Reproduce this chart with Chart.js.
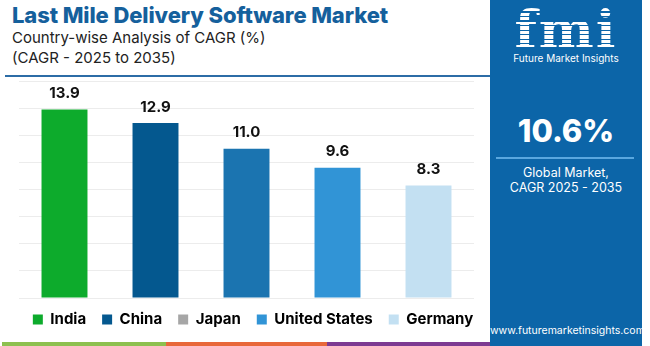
<!DOCTYPE html>
<html>
<head>
<meta charset="utf-8">
<script src="https://cdn.jsdelivr.net/npm/chart.js@4.4.1/dist/chart.umd.min.js"></script>
<style>
  html, body { margin: 0; padding: 0; background: #fff; }
  body { width: 650px; height: 346px; position: relative; overflow: hidden; font-family: Inter, "Open Sans", sans-serif; }
  #title { position: absolute; left: 12px; top: 2px; font-size: 22px; font-weight: 800; color: #15609c; white-space: nowrap; letter-spacing: -0.1px; }
  .sub { position: absolute; left: 12px; font-size: 15px; color: #222; white-space: nowrap; }
  #rule { position: absolute; left: 5px; top: 75px; width: 485px; height: 2px; background: #2c6ca6; }
  #chartBox { position: absolute; left: 0; top: 78px; width: 490px; height: 269px; }
  .strip { position: absolute; top: 342px; height: 4px; }
  #panel { position: absolute; left: 490px; top: 0; width: 152px; height: 346px; background: #0c65a8; color: #fff; text-align: center; }
  #logo { position: absolute; left: 0; top: 4px; width: 152px; font-family: "DejaVu Serif", serif; font-weight: bold; font-size: 52px; line-height: 52px; letter-spacing: 2px;
          background: repeating-linear-gradient(#fff 0 3px, transparent 3px 4.5px); -webkit-background-clip: text; background-clip: text; color: transparent; }
  #logoTxt { position: absolute; left: 0; top: 52px; width: 152px; font-size: 10px; }
  #big { position: absolute; left: 0; top: 112px; width: 152px; font-size: 31px; font-weight: 800; }
  #pline { position: absolute; left: 6px; top: 157px; width: 138px; height: 2px; background: #5aa7df; }
  #glob { position: absolute; left: 0; top: 165px; width: 152px; font-size: 12.5px; line-height: 15px; }
  #url { position: absolute; left: 0; top: 324px; width: 152px; font-size: 10.5px; }
</style>
</head>
<body>
<div id="title">Last Mile Delivery Software Market</div>
<div class="sub" style="top:28px">Country-wise Analysis of CAGR (%)</div>
<div class="sub" style="top:48px">(CAGR - 2025 to 2035)</div>
<div id="rule"></div>
<div id="chartBox"><canvas id="demo"></canvas></div>
<div class="strip" style="left:2px;width:164px;background:#8dc04f"></div>
<div class="strip" style="left:166px;width:161px;background:#e8683a"></div>
<div class="strip" style="left:327px;width:163px;background:#7d3a92"></div>
<div id="panel">
  <div id="logo">fmi</div>
  <div id="logoTxt">Future Market Insights</div>
  <div id="big">10.6%</div>
  <div id="pline"></div>
  <div id="glob">Global Market,<br>CAGR 2025 - 2035</div>
  <div id="url">www.futuremarketinsights.com</div>
</div>
<script>
const countries = ['India', 'China', 'Japan', 'United States', 'Germany'];
const cagr = [13.9, 12.9, 11.0, 9.6, 8.3];
const barColors = ['#0dab2c', '#04588f', '#1b74b0', '#3194d6', '#c3e0f2'];
const legendColors = ['#0dab2c', '#04588f', '#a6a6a6', '#3194d6', '#c3e0f2'];

// draw the value above each bar (no datalabels plugin offline)
const valueLabels = {
	id: 'valueLabels',
	afterDatasetsDraw(chart) {
		const ctx = chart.ctx;
		const meta = chart.getDatasetMeta(0);
		ctx.save();
		ctx.font = 'bold 15px Inter, sans-serif';
		ctx.fillStyle = '#111';
		ctx.textAlign = 'center';
		ctx.textBaseline = 'middle';
		meta.data.forEach(function(bar, i) {
			ctx.fillText(cagr[i].toFixed(1), bar.x, bar.y - 16);
		});
		ctx.restore();
	}
};

// pull the legend row a bit closer to the bars, nudge it right
const legendMove = {
	id: 'legendMove',
	afterLayout(chart) {
		chart.legend.top -= 10;
		chart.legend.bottom -= 10;
		chart.legend.left += 8;
		chart.legend.right += 8;
	}
};

const config_demo = {
	type: 'bar',
	data: {
		labels: countries,
		datasets: [{
			data: cagr,
			backgroundColor: barColors,
			borderWidth: 0,
			categoryPercentage: 1,
			barPercentage: 0.505
		}]
	},
	plugins: [valueLabels, legendMove],
	options: {
		responsive: true,
		maintainAspectRatio: false,
		animation: false,
		layout: { padding: { left: 0, right: 0, top: 3, bottom: 0 } },
		plugins: {
			tooltip: { enabled: false },
			title: { display: false },
			legend: {
				display: true,
				position: 'bottom',
				labels: {
					boxWidth: 10,
					boxHeight: 10,
					padding: 16,
					color: '#111',
					font: { size: 15, weight: 'bold', family: 'Inter, sans-serif' },
					generateLabels: function(chart) {
						return countries.map(function(c, i) {
							return { text: c, fillStyle: legendColors[i], strokeStyle: legendColors[i], lineWidth: 0, index: i };
						});
					}
				}
			}
		},
		scales: {
			x: {
				grid: { display: false },
				border: { display: false },
				ticks: { display: false }
			},
			y: {
				min: 0,
				max: 16,
				ticks: { display: false, stepSize: 2 },
				grid: { color: '#ececec', lineWidth: 1, drawTicks: false },
				border: { display: false },
				afterFit: function(scale) { scale.width = 19; }
			},
			y2: {
				position: 'right',
				min: 0,
				max: 16,
				grid: { display: false },
				border: { display: false },
				ticks: { display: false },
				afterFit: function(scale) { scale.width = 16; }
			}
		}
	}
};

const demo = new Chart(document.getElementById('demo'), config_demo);
</script>
</body>
</html>
